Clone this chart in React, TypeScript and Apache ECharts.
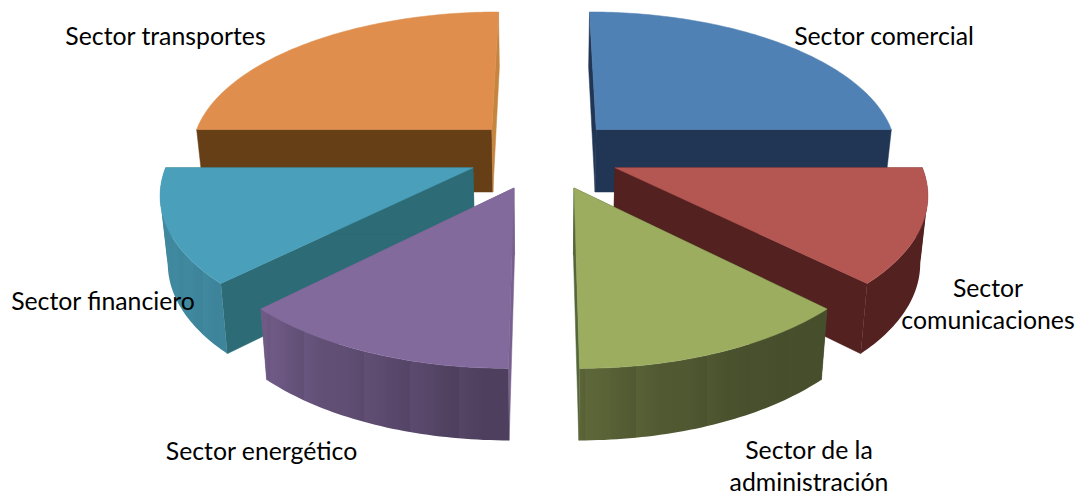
import React, { useEffect, useRef } from "react";
import * as echarts from "echarts";

const categories = [
  "Sector comercial",
  "Sector comunicaciones",
  "Sector de la administración",
  "Sector energético",
  "Sector financiero",
  "Sector transportes",
];
const shares = [25, 12.5, 12.5, 12.5, 12.5, 25];
const topColors = ["#5081b4", "#b45652", "#9cad60", "#826a9d", "#4aa0ba", "#df8e4d"];
const wallBases = ["#5081b4", "#b84945", "#9cad60", "#826a9d", "#4aa0ba", "#df8e4d"];
const startFaceColors = ["#203654", "#53211f", "#43502a", "#78608f", "#2d6b76", "#673f17"];
const endFaceColors = ["#203654", "#53211f", "#55663a", "#78608f", "#2d6b76", "#c5853f"];
const labelLines = [
  "Sector comercial",
  "Sector\ncomunicaciones",
  "Sector de la\nadministración",
  "Sector energético",
  "Sector financiero",
  "Sector transportes",
];
const labelAnchors: number[][] = [
  [884, 35],
  [988, 303],
  [809, 465],
  [261.5, 450],
  [103, 300],
  [165.5, 35],
];

// projection of the exploded disc
const CX = 544, CY = 154, RX = 303, RY = 142, PERSP = 0.15, EXPLODE = 0.25, START = -90;

const rad = (d: number) => (d * Math.PI) / 180;
const topPoint = (X: number, Y: number) => {
  const s = 1 / (1 - PERSP * Y);
  return [CX + X * RX * s, CY + Y * RY * s];
};
const bottomOf = (p: number[]) => {
  const t = Math.max(0, (p[1] - 129) / 238);
  const h = p[1] < 129 ? 62 - ((129 - p[1]) / 116) * 7 : 62 + 10 * Math.sqrt(t);
  return [CX + (p[0] - CX) * 0.98, p[1] + h];
};

const shadeStops: number[][] = [
  [0, 0.45],
  [45, 0.45],
  [62, 0.46],
  [90, 0.58],
  [135, 0.83],
  [180, 0.87],
];
const shadeAt = (a: number) => {
  for (let i = 1; i < shadeStops.length; i++) {
    if (a <= shadeStops[i][0]) {
      const [a0, s0] = shadeStops[i - 1];
      const [a1, s1] = shadeStops[i];
      return s0 + ((a - a0) / (a1 - a0)) * (s1 - s0);
    }
  }
  return 0.87;
};
const bandPattern = [1, 0.97, 1.025, 0.98, 1.03, 0.985, 1.015];
const scaleColor = (hex: string, f: number) => {
  const n = parseInt(hex.slice(1), 16);
  const c = [(n >> 16) & 255, (n >> 8) & 255, n & 255].map((v) => Math.min(255, Math.round(v * f)));
  return `rgb(${c[0]},${c[1]},${c[2]})`;
};

const total = shares.reduce((a, b) => a + b, 0);

function renderSlice(params: any, api: any) {
  const i = params.dataIndex;
  const value = api.value(0) as number;
  const before = shares.slice(0, i).reduce((a, b) => a + b, 0);
  const a0 = START + (before / total) * 360;
  const a1 = a0 + (value / total) * 360;
  const mid = (a0 + a1) / 2;
  const ox = EXPLODE * Math.cos(rad(mid));
  const oy = EXPLODE * Math.sin(rad(mid));
  const rim = (a: number) => topPoint(ox + Math.cos(rad(a)), oy + Math.sin(rad(a)));
  const apex = topPoint(ox, oy);
  const depth = Math.round((Math.sin(rad(mid)) + 1) * 10) * 10;
  const poly = (points: number[][], fill: any, z2: number, stroke = true) => ({
    type: "polygon",
    shape: { points },
    style: stroke ? { fill, stroke: fill, lineWidth: 0.5 } : { fill },
    silent: true,
    z2,
  });
  const children: any[] = [];
  // cut faces
  for (const [a, color] of [
    [a0, startFaceColors[i]],
    [a1, endFaceColors[i]],
  ] as [number, string][]) {
    const r = rim(a);
    children.push(poly([apex, r, bottomOf(r), bottomOf(apex)], color, depth + 1));
  }
  // outer wall: shading runs across in vertical bands
  const w0 = Math.max(a0, 0);
  const w1 = Math.min(a1, 180);
  if (w1 > w0) {
    const upper: number[][] = [];
    for (let a = w0; a <= w1 + 0.001; a += 1) upper.push(rim(a));
    const lower = upper.map(bottomOf);
    const xs = [...upper, ...lower].map((p) => p[0]);
    const minX = Math.min(...xs);
    const maxX = Math.max(...xs);
    const stops: any[] = [];
    const step = 4;
    let n = 0;
    for (let a = w0; a < w1 - 0.01; a += step, n++) {
      const b = Math.min(a + step, w1);
      const f0 = (bottomOf(rim(a))[0] - minX) / (maxX - minX);
      const f1 = (bottomOf(rim(b))[0] - minX) / (maxX - minX);
      if (f1 >= f0) continue; // the rim turns back here
      const amp = a >= 135 ? 0.4 : a >= 62 ? 1 : 0;
      const band = 1 + (bandPattern[n % bandPattern.length] - 1) * amp;
      const col = scaleColor(wallBases[i], shadeAt((a + b) / 2) * band);
      stops.push({ offset: Math.max(0, Math.min(1, f0)), color: col });
      stops.push({ offset: Math.max(0, Math.min(1, f1)), color: col });
    }
    stops.sort((p, q) => p.offset - q.offset);
    const gradient = new echarts.graphic.LinearGradient(minX, 0, maxX, 0, stops, true);
    // split where the rim changes direction, so each part is a simple polygon
    let from = 0;
    for (let k = 1; k < upper.length; k++) {
      const atEnd = k === upper.length - 1;
      const turns =
        !atEnd &&
        (upper[k][0] - upper[k - 1][0]) * (upper[k + 1][0] - upper[k][0]) < 0;
      if (atEnd || turns) {
        const u = upper.slice(from, k + 1);
        const l = lower.slice(from, k + 1).reverse();
        children.push(poly([...u, ...l], gradient, depth + 2, false));
        from = Math.max(0, k - 1);
      }
    }
  }
  // top face
  const topPts = [apex];
  for (let a = a0; a <= a1 + 0.001; a += 1) topPts.push(rim(a));
  children.push(poly(topPts, topColors[i], depth + 3));
  // label
  children.push({
    type: "text",
    silent: true,
    z2: 1000,
    style: {
      text: labelLines[i],
      x: labelAnchors[i][0],
      y: labelAnchors[i][1],
      align: "center",
      verticalAlign: "middle",
      fontFamily: "Lato",
      fontSize: 24.8,
      lineHeight: 32,
      fill: "#000000",
    },
  });
  return { type: "group", children };
}

export default function App() {
  const ref = useRef<HTMLDivElement>(null);
  useEffect(() => {
    const chart = echarts.init(ref.current!, undefined, { renderer: "svg" });
    chart.setOption({
      animation: false,
      backgroundColor: "#ffffff",
      series: [
        {
          type: "custom",
          coordinateSystem: "none",
          renderItem: renderSlice,
          data: categories.map((name, i) => ({ name, value: [shares[i]] })),
        },
      ],
    });
    return () => chart.dispose();
  }, []);
  return <div ref={ref} style={{ position: "fixed", left: 0, top: 0, width: 1078, height: 496 }} />;
}
